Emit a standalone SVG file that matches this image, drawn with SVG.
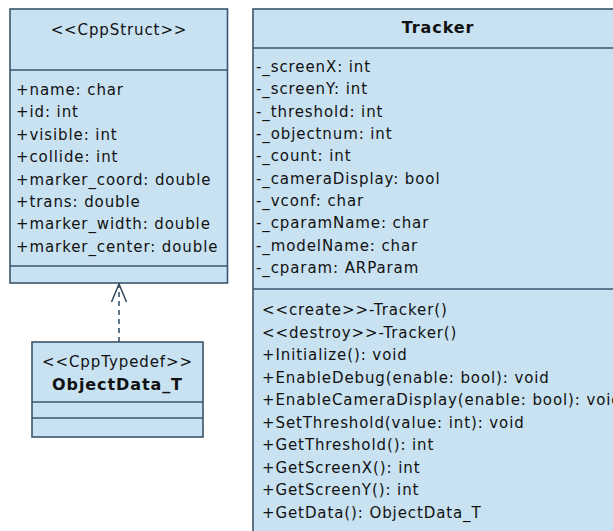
<svg xmlns="http://www.w3.org/2000/svg" width="613" height="531" viewBox="0 0 613 531">
<style>
.box{fill:#c8e2f1;stroke:#3a566e;stroke-width:1.6}
.sep{stroke:#3a566e;stroke-width:1.6}
text{font-family:"DejaVu Sans","Liberation Sans",sans-serif;font-size:15px;letter-spacing:0.9px;fill:#111}
.b{font-weight:bold;font-size:16px}
.c{text-anchor:middle}
.conn{fill:none;stroke:#2f4a60;stroke-width:1.5}
</style>
<rect width="613" height="531" fill="#fff"/>
<g id="CppStruct">
<rect class="box" x="10" y="9" width="217.5" height="274"/>
<line class="sep" x1="10" y1="70" x2="227.5" y2="70"/>
<line class="sep" x1="10" y1="266" x2="227.5" y2="266"/>
<text class="c" x="119" y="35">&lt;&lt;CppStruct&gt;&gt;</text>
<text x="16" y="95">+name: char</text>
<text x="16" y="117.4">+id: int</text>
<text x="16" y="139.8">+visible: int</text>
<text x="16" y="162.2">+collide: int</text>
<text x="16" y="184.6">+marker_coord: double</text>
<text x="16" y="207">+trans: double</text>
<text x="16" y="229.4">+marker_width: double</text>
<text x="16" y="251.8">+marker_center: double</text>
</g>
<g id="ObjectData_T">
<rect class="box" x="32" y="342" width="171" height="95"/>
<line class="sep" x1="32" y1="402" x2="203" y2="402"/>
<line class="sep" x1="32" y1="418" x2="203" y2="418"/>
<text class="c" x="117.5" y="367">&lt;&lt;CppTypedef&gt;&gt;</text>
<text class="c b" x="117.5" y="390">ObjectData_T</text>
</g>
<g id="Tracker">
<rect class="box" x="253" y="9" width="370" height="540"/>
<line class="sep" x1="253" y1="48" x2="623" y2="48"/>
<line class="sep" x1="253" y1="289" x2="623" y2="289"/>
<text class="c b" x="438" y="33">Tracker</text>
<text x="256" y="72">-_screenX: int</text>
<text x="256" y="94.3">-_screenY: int</text>
<text x="256" y="116.7">-_threshold: int</text>
<text x="256" y="139">-_objectnum: int</text>
<text x="256" y="161.3">-_count: int</text>
<text x="256" y="183.7">-_cameraDisplay: bool</text>
<text x="256" y="206">-_vconf: char</text>
<text x="256" y="228.3">-_cparamName: char</text>
<text x="256" y="250.7">-_modelName: char</text>
<text x="256" y="273">-_cparam: ARParam</text>
<text x="262" y="315">&lt;&lt;create&gt;&gt;-Tracker()</text>
<text x="262" y="337.5">&lt;&lt;destroy&gt;&gt;-Tracker()</text>
<text x="262" y="360">+Initialize(): void</text>
<text x="262" y="382.5">+EnableDebug(enable: bool): void</text>
<text x="262" y="405">+EnableCameraDisplay(enable: bool): void</text>
<text x="262" y="427.5">+SetThreshold(value: int): void</text>
<text x="262" y="450">+GetThreshold(): int</text>
<text x="262" y="472.5">+GetScreenX(): int</text>
<text x="262" y="495">+GetScreenY(): int</text>
<text x="262" y="517.5">+GetData(): ObjectData_T</text>
</g>
<g id="connectors">
<line class="conn" x1="119" y1="342" x2="119" y2="285" stroke-dasharray="5,4"/>
<polyline class="conn" points="111.5,302 119,284 126.5,302"/>
</g>
</svg>
